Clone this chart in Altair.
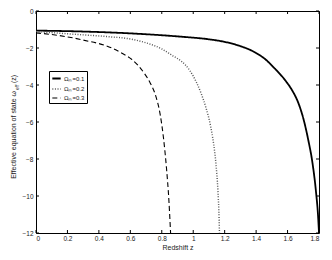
import altair as alt
import pandas as pd

# ---- data ----
series_labels = ["Ωₘ=0.1", "Ωₘ=0.2", "Ωₘ=0.3"]

z_01 = [0.0, 0.3, 0.6, 0.925, 1.1, 1.206, 1.3, 1.394, 1.46, 1.52, 1.59, 1.63, 1.67, 1.70, 1.73, 1.76, 1.78, 1.795, 1.8]
w_01 = [-1.06, -1.11, -1.21, -1.39, -1.53, -1.68, -1.9, -2.24, -2.62, -3.12, -3.8, -4.3, -5.0, -5.8, -6.9, -8.3, -9.7, -11.2, -12.0]

z_02 = [0.0, 0.3, 0.45, 0.61, 0.7, 0.8, 0.87, 0.925, 0.977, 1.02, 1.05, 1.08, 1.11, 1.13, 1.145, 1.157, 1.163, 1.167]
w_02 = [-1.11, -1.29, -1.38, -1.53, -1.72, -2.05, -2.42, -2.72, -3.2, -3.85, -4.45, -5.2, -6.2, -7.2, -8.3, -9.7, -10.8, -12.0]

z_03 = [0.0, 0.15, 0.3, 0.4875, 0.55, 0.61, 0.65, 0.69, 0.727, 0.76, 0.79, 0.81, 0.83, 0.845, 0.856]
w_03 = [-1.18, -1.33, -1.57, -2.02, -2.3, -2.62, -2.95, -3.38, -3.9, -4.55, -5.6, -6.8, -8.5, -10.2, -12.0]

x_ticks = [0, 0.2, 0.4, 0.6, 0.8, 1.0, 1.2, 1.4, 1.6, 1.8]
y_ticks = [0, -2, -4, -6, -8, -10, -12]

x_title = "Redshift z"
y_title_main = "Effective equation of state  ω"
y_title_sub = "eff"
y_title_tail = "(z)"

# ---- build table ----
rows = []
for lab, zs, ws in zip(series_labels, [z_01, z_02, z_03], [w_01, w_02, w_03]):
    for z, w in zip(zs, ws):
        rows.append({"series": lab, "z": z, "w": w})
df = pd.DataFrame(rows)

PL, PR, PT, PB = 28, 5, 3, 18
W, H = 316 - PL - PR, 222
FONT = "Liberation Sans"
TXT = "#222222"

xs = alt.Scale(domain=[0, 1.8], nice=False, zero=False)
ys = alt.Scale(domain=[-12, 0], nice=False, zero=False)

xaxis = alt.Axis(values=x_ticks, format="~g", title=x_title, ticks=False,
                 domain=False, grid=False, labelPadding=2, titlePadding=2)
yaxis = alt.Axis(values=y_ticks, format="~g", title=None, ticks=False,
                 domain=False, grid=False, labelPadding=3)

lines = alt.Chart(df).mark_line(interpolate="monotone", clip=True).encode(
    x=alt.X("z:Q", scale=xs, axis=xaxis),
    y=alt.Y("w:Q", scale=ys, axis=yaxis),
    strokeDash=alt.StrokeDash("series:N",
                              scale=alt.Scale(domain=series_labels, range=[[1, 0], [1, 1.6], [5, 3]]),
                              legend=alt.Legend(title=None)),
    strokeWidth=alt.StrokeWidth("series:N",
                                scale=alt.Scale(domain=series_labels, range=[1.8, 1.1, 1.8]),
                                legend=alt.Legend(title=None)),
    color=alt.Color("series:N",
                    scale=alt.Scale(domain=series_labels, range=["#000000", "#555555", "#000000"]),
                    legend=alt.Legend(title=None)),
)

xt = pd.DataFrame({"t": x_ticks})
yt = pd.DataFrame({"t": y_ticks})
TL = 3

tick_b = alt.Chart(xt).mark_rule(color="black", strokeWidth=1).encode(
    x=alt.X("t:Q", scale=xs, axis=xaxis), y=alt.value(H), y2=alt.value(H - TL))
tick_t = alt.Chart(xt).mark_rule(color="black", strokeWidth=1).encode(
    x=alt.X("t:Q", scale=xs, axis=xaxis), y=alt.value(0), y2=alt.value(TL))
tick_l = alt.Chart(yt).mark_rule(color="black", strokeWidth=1).encode(
    y=alt.Y("t:Q", scale=ys, axis=yaxis), x=alt.value(0), x2=alt.value(TL))
tick_r = alt.Chart(yt).mark_rule(color="black", strokeWidth=1).encode(
    y=alt.Y("t:Q", scale=ys, axis=yaxis), x=alt.value(W), x2=alt.value(W - TL))

one = alt.Data(values=[{"k": 1}])
TX = -22
t_main = alt.Chart(one).mark_text(angle=270, align="right", baseline="middle",
                                  fontSize=7, font=FONT, color=TXT).encode(
    x=alt.value(TX), y=alt.value(80), text=alt.value(y_title_main))
t_sub = alt.Chart(one).mark_text(angle=270, align="left", baseline="middle",
                                 fontSize=5, font=FONT, color=TXT).encode(
    x=alt.value(TX + 2.5), y=alt.value(79), text=alt.value(y_title_sub))
t_tail = alt.Chart(one).mark_text(angle=270, align="left", baseline="middle",
                                  fontSize=7, font=FONT, color=TXT).encode(
    x=alt.value(TX), y=alt.value(72), text=alt.value(y_title_tail))

chart = alt.layer(lines, tick_b, tick_t, tick_l, tick_r, t_main, t_sub, t_tail).properties(
    width=W, height=H,
    padding={"left": PL, "top": PT, "right": PR, "bottom": PB},
    autosize=alt.AutoSizeParams(type="none"),
).configure_view(
    stroke="black", strokeWidth=1
).configure_axis(
    labelFont=FONT, labelFontSize=6.5, labelColor=TXT,
    titleFont=FONT, titleFontSize=7, titleFontWeight="normal", titleColor=TXT,
).configure_legend(
    orient="none", legendX=13, legendY=60,
    strokeColor="black", fillColor="white", padding=2,
    labelFont=FONT, labelFontSize=6, labelColor=TXT, labelOffset=2,
    symbolType="stroke", symbolSize=70, rowPadding=1,
)

chart.save("out.html", embed_options={"renderer": "svg", "actions": False})
